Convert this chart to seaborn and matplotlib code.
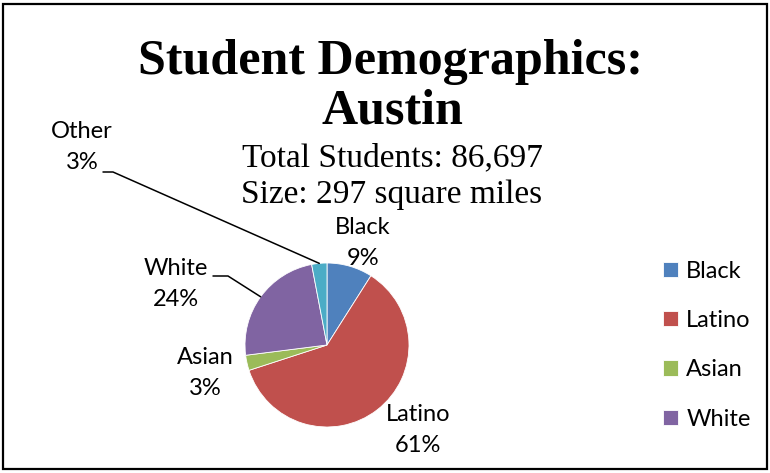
import matplotlib
matplotlib.use("Agg")
import matplotlib.pyplot as plt
from matplotlib.lines import Line2D
from matplotlib.patches import Rectangle
import numpy as np
import seaborn as sns

groups = ["Black", "Latino", "Asian", "White", "Other"]
shares = [9, 61, 3, 24, 3]
legend_groups = ["Black", "Latino", "Asian", "White"]
title_lines = ["Student Demographics:", "Austin"]
subtitle_lines = ["Total Students: 86,697", "Size: 297 square miles"]

colors = ["#4F81BD", "#C0504D", "#9BBB59", "#8064A2", "#4BACC6"]

W, H = 770, 473
sns.set_theme(style="white")
plt.rcParams["font.family"] = ["Lato", "DejaVu Sans"]
plt.rcParams["text.color"] = "black"

def fx(x):
    return x / W

def fy(y):
    return 1 - y / H

fig = plt.figure(figsize=(W / 100, H / 100), dpi=100)
fig.patch.set_facecolor("white")

# pie placement (image pixels)
cx, cy, r = 327, 345, 82
ax = fig.add_axes([(cx - r) / W, (H - cy - r) / H, 2 * r / W, 2 * r / H])
wedges, _ = ax.pie(shares, colors=colors, startangle=90, counterclock=False,
                   wedgeprops=dict(edgecolor="white", linewidth=0.6))
ax.set_xlim(-1, 1)
ax.set_ylim(-1, 1)
ax.set_aspect("equal")
ax.axis("off")

# title + subtitle
fig.text(fx(391), fy(62), title_lines[0], ha="center", va="center",
         family="Liberation Serif", weight="bold", fontsize=36)
fig.text(fx(392), fy(112), title_lines[1], ha="center", va="center",
         family="Liberation Serif", weight="bold", fontsize=36)
fig.text(fx(392), fy(158), subtitle_lines[0], ha="center", va="center",
         family="Liberation Serif", fontsize=24)
fig.text(fx(392), fy(195), subtitle_lines[1], ha="center", va="center",
         family="Liberation Serif", fontsize=24)

# data labels
label_pos = {"Other": (82, 147), "Black": (363, 243), "White": (176, 284),
             "Asian": (205, 373), "Latino": (418, 430)}
for g, v in zip(groups, shares):
    x, y = label_pos[g]
    fig.text(fx(x), fy(y), f"{g}\n{v}%", ha="center", va="center",
             fontsize=17, linespacing=1.55)

# leader lines to the small/far labels
knees = {"Other": [(103, 172), (113, 172)], "White": [(213, 276), (228, 276)]}
fig.canvas.draw()
for g, w in zip(groups, wedges):
    if g not in knees:
        continue
    th = np.deg2rad((w.theta1 + w.theta2) / 2)
    px, py = ax.transData.transform((np.cos(th), np.sin(th)))
    pts = [(fx(a), fy(b)) for a, b in knees[g]] + [(px / W, py / H)]
    xs, ys = zip(*pts)
    fig.add_artist(Line2D(xs, ys, transform=fig.transFigure, color="black", linewidth=1.1))

fig.legend(wedges[:4], legend_groups, loc="center left",
           bbox_to_anchor=(fx(642), fy(345)), frameon=False, fontsize=17,
           handlelength=0.62, handleheight=0.62, labelspacing=1.2, handletextpad=0.35)

fig.add_artist(Rectangle((fx(3), fy(469)), (767 - 3) / W, (469 - 4) / H,
                         transform=fig.transFigure, fill=False,
                         edgecolor="black", linewidth=1.6))

fig.savefig("out.png", dpi=100)
